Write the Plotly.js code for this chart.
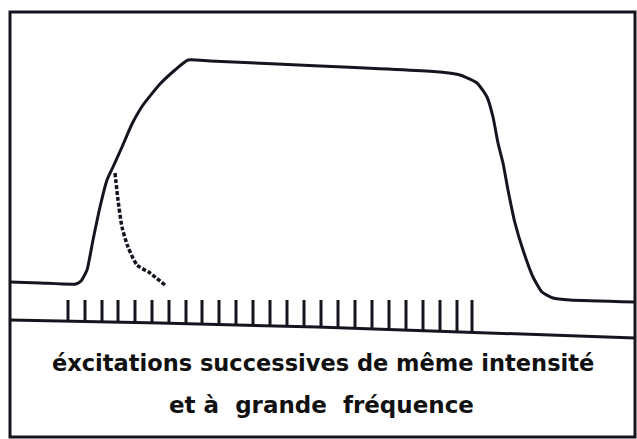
<!DOCTYPE html>
<html><head><meta charset="utf-8">
<script src="https://cdn.plot.ly/plotly-3.0.1.min.js"></script>
<style>html,body{margin:0;padding:0;background:#fff;}#c{width:637px;height:439px;}</style>
</head><body><div id="c"></div>
<script>
// Muscle response curve (tetanus) – positions in drawing units
const curveX = [10, 40, 76, 81, 87, 93, 100, 107, 113, 122, 132, 143, 160, 175, 188, 210, 320, 440, 460, 477, 487, 493, 498, 503, 508, 515, 523, 533, 542, 553, 570, 635];
const curveY = [282, 283, 284, 281, 270, 240, 207, 180, 167, 147, 124, 105, 84, 70, 60, 61, 66, 72, 75, 83, 97, 117, 143, 163, 190, 223, 250, 277, 292, 298, 300, 302];
// Single twitch (dashed) relaxation
const twitchX = [115, 118, 122, 128, 137, 150, 165];
const twitchY = [173, 200, 227, 247, 265, 273, 285];
// Stimulation baseline
const baseX = [10, 160, 317, 470, 635];
const baseY = [320, 323, 327, 332, 338];
// Stimuli (tick marks)
const stimX = [68, 85, 102, 118, 135, 152, 169, 186, 202, 219, 236, 253, 270, 287, 304, 321, 338, 355, 372, 389, 406, 423, 440, 457, 472];
const stimTop = 300;
const label1 = "éxcitations successives de même intensité";
const label2 = "et à  grande  fréquence";

function baseAt(x){
  for(let i=0;i<baseX.length-1;i++){
    if(x>=baseX[i] && x<=baseX[i+1]){
      const t=(x-baseX[i])/(baseX[i+1]-baseX[i]);
      return baseY[i]+t*(baseY[i+1]-baseY[i]);
    }
  }
  return baseY[baseY.length-1];
}
const sx=[], sy=[];
stimX.forEach(x=>{ sx.push(x,x,null); sy.push(stimTop, baseAt(x), null); });

const ink = '#15151f';
const traces = [
  {x:curveX, y:curveY, mode:'lines', line:{color:ink, width:3, shape:'spline', smoothing:0.5}, hoverinfo:'skip'},
  {x:twitchX, y:twitchY, mode:'lines', line:{color:ink, width:3.5, dash:'4px,2px', shape:'spline', smoothing:0.6}, hoverinfo:'skip'},
  {x:baseX, y:baseY, mode:'lines', line:{color:ink, width:3}, hoverinfo:'skip'},
  {x:sx, y:sy, mode:'lines', line:{color:ink, width:3}, hoverinfo:'skip', connectgaps:false}
];
const layout = {
  width:637, height:439,
  margin:{l:0,r:0,t:0,b:0},
  paper_bgcolor:'#fff', plot_bgcolor:'#fff',
  showlegend:false,
  xaxis:{range:[0,637], visible:false, fixedrange:true},
  yaxis:{range:[439,0], visible:false, fixedrange:true},
  shapes:[
    {type:'rect', xref:'x', yref:'y', x0:10, y0:12, x1:635, y1:437, line:{color:ink, width:3}}
  ],
  annotations:[
    {x:323, y:363, xref:'x', yref:'y', text:label1, showarrow:false, font:{family:'DejaVu Sans', size:22.5, color:'#111', weight:'bold'}},
    {x:321, y:405, xref:'x', yref:'y', text:label2, showarrow:false, font:{family:'DejaVu Sans', size:23, color:'#111', weight:'bold'}}
  ]
};
Plotly.newPlot('c', traces, layout, {displayModeBar:false, staticPlot:true});
</script></body></html>
